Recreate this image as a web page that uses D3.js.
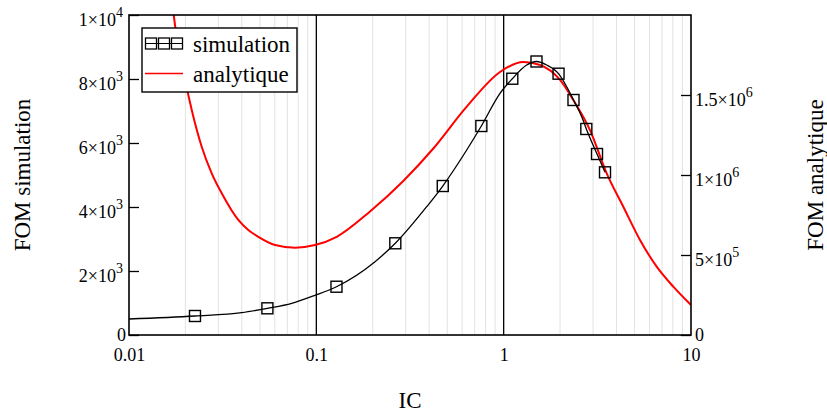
<!DOCTYPE html>
<html>
<head>
<meta charset="utf-8">
<script src="https://cdn.jsdelivr.net/npm/d3@7"></script>
<style>
  html, body { margin: 0; padding: 0; background: #fff; }
  svg { display: block; font-family: "Liberation Serif", "Times New Roman", serif; }
</style>
</head>
<body>
<svg id="chart" width="827" height="416"></svg>
<script>
// ---------- data ----------
// simulation markers (IC, FOM simulation)
const simIC  = [0.0225, 0.0548, 0.1281, 0.264, 0.473, 0.760, 1.112, 1.497, 1.963, 2.359, 2.762, 3.150, 3.475];
const simFOM = [594, 834, 1509, 2866, 4656, 6531, 8009, 8547, 8166, 7344, 6438, 5656, 5084];
// simulation curve as drawn (IC, FOM simulation)
const simLineIC  = [0.01, 0.0225, 0.040, 0.0548, 0.0739, 0.0984, 0.1281, 0.2057, 0.264, 0.3883, 0.473, 0.635, 0.760, 0.956, 1.112, 1.327, 1.497, 1.697, 1.963, 2.170, 2.359, 2.610, 2.762, 3.150, 3.475];
const simLineFOM = [500, 594, 697, 834, 991, 1241, 1509, 2291, 2866, 4009, 4656, 5781, 6531, 7553, 8009, 8438, 8547, 8438, 8166, 7759, 7344, 6822, 6438, 5656, 5084];
// analytical curve (IC, FOM analytique)
const anaIC  = [0.01720, 0.01760, 0.02073, 0.02162, 0.02444, 0.02764, 0.03126, 0.03833, 0.04333, 0.04899, 0.06018, 0.0769, 0.0984, 0.1285, 0.1934, 0.2912, 0.4212, 0.635, 0.956, 1.273, 1.563, 2.0, 2.353, 2.890, 3.548, 4.352, 5.343, 6.559, 8.046, 10];
const anaFOM = [2.03e6, 1.9375e6, 1.5e6, 1.406e6, 1.177e6, 1.0106e6, 8.856e5, 7.19e5, 6.56e5, 6.14e5, 5.625e5, 5.46e5, 5.625e5, 6.14e5, 7.72e5, 9.625e5, 1.1656e6, 1.427e6, 1.644e6, 1.706e6, 1.6875e6, 1.594e6, 1.469e6, 1.281e6, 1.0106e6, 8.02e5, 5.94e5, 4.27e5, 3.02e5, 1.875e5];
// ticks
const xTicks = [0.01, 0.1, 1, 10];
const xTickLabels = ["0.01", "0.1", "1", "10"];
const leftTicks = [0, 2000, 4000, 6000, 8000, 10000];
const rightTicks = [0, 500000, 1000000, 1500000];
const majorLines = [0.1, 1];
const seriesNames = ["simulation", "analytique"];
const axisTitles = { x: "IC", left: "FOM simulation", right: "FOM analytique" };

// ---------- layout ----------
const L = 129, R = 691, T = 15, B = 335;
const svg = d3.select("#chart");
const x = d3.scaleLog().domain([0.01, 10]).range([L, R]);
const yL = d3.scaleLinear().domain([0, 10000]).range([B, T]);
const yR = d3.scaleLinear().domain([0, 2000000]).range([B, T]);

svg.append("defs").append("clipPath").attr("id", "plotclip")
  .append("rect").attr("x", L).attr("y", T).attr("width", R - L).attr("height", B - T);

// minor grid
const minor = [];
for (let d = 0.01; d < 10; d *= 10) for (let k = 2; k <= 9; k++) minor.push(d * k);
svg.append("g").selectAll("line").data(minor).join("line")
  .attr("x1", d => x(d)).attr("x2", d => x(d)).attr("y1", T).attr("y2", B)
  .attr("stroke", "#e2e2e2").attr("stroke-width", 1);
svg.append("g").selectAll("line").data(majorLines).join("line")
  .attr("x1", d => x(d)).attr("x2", d => x(d)).attr("y1", T).attr("y2", B)
  .attr("stroke", "#000").attr("stroke-width", 1.3);

// ---------- tick label formatting ----------
function sci(v) {
  if (v === 0) return { m: "0", e: null };
  const e = Math.floor(Math.log10(v) + 1e-9);
  const m = +(v / Math.pow(10, e)).toFixed(2);
  return { m: m + "\u00d710", e: String(e) };
}
function fillLabel(sel) {
  sel.each(function(d) {
    const t = d3.select(this);
    const f = sci(d);
    t.text(null);
    t.append("tspan").text(f.m);
    if (f.e) t.append("tspan").attr("font-size", 14).attr("dy", -9).text(f.e);
  });
}

// left axis
const gL = svg.append("g").attr("transform", `translate(${L},0)`)
  .call(d3.axisLeft(yL).tickValues(leftTicks).tickSize(-10).tickPadding(6));
gL.select(".domain").remove();
gL.selectAll(".tick line").attr("stroke", "#000").attr("stroke-width", 1.3);
gL.selectAll(".tick text").attr("font-size", 18).attr("fill", "#000")
  .attr("font-family", "Liberation Serif, serif")
  .attr("dy", d => d === 0 ? 5.5 : 10.5)
  .attr("dx", d => d === 0 ? 3 : 0)
  .call(fillLabel);

// right axis
const gR = svg.append("g").attr("transform", `translate(${R},0)`)
  .call(d3.axisRight(yR).tickValues(rightTicks).tickSize(-10).tickPadding(4));
gR.select(".domain").remove();
gR.selectAll(".tick line").attr("stroke", "#000").attr("stroke-width", 1.3);
gR.selectAll(".tick text").attr("font-size", 18).attr("fill", "#000")
  .attr("font-family", "Liberation Serif, serif")
  .attr("dy", d => d === 0 ? 5.5 : 10.5)
  .call(fillLabel);

// bottom axis
const gB = svg.append("g").attr("transform", `translate(0,${B})`)
  .call(d3.axisBottom(x).tickValues(xTicks).tickSize(0)
    .tickFormat((d, i) => xTickLabels[i]));
gB.select(".domain").remove();
gB.selectAll(".tick text").attr("font-size", 18).attr("fill", "#000")
  .attr("font-family", "Liberation Serif, serif").attr("y", 26).attr("dy", 0);

// ---------- series ----------
const plot = svg.append("g").attr("clip-path", "url(#plotclip)");
const anaLine = d3.line().x((d, i) => x(anaIC[i])).y(d => yR(d)).curve(d3.curveMonotoneX);
plot.append("path").attr("d", anaLine(anaFOM))
  .attr("fill", "none").attr("stroke", "#ff0000").attr("stroke-width", 2);

const simLine = d3.line().x((d, i) => x(simLineIC[i])).y(d => yL(d)).curve(d3.curveMonotoneX);
plot.append("path").attr("d", simLine(simLineFOM))
  .attr("fill", "none").attr("stroke", "#000").attr("stroke-width", 1.3);

const sq = 11;
plot.append("g").selectAll("rect").data(simFOM).join("rect")
  .attr("x", (d, i) => x(simIC[i]) - sq / 2).attr("y", d => yL(d) - sq / 2)
  .attr("width", sq).attr("height", sq)
  .attr("fill", "none").attr("stroke", "#000").attr("stroke-width", 1.4);

// frame
svg.append("rect").attr("x", L).attr("y", T).attr("width", R - L).attr("height", B - T)
  .attr("fill", "none").attr("stroke", "#000").attr("stroke-width", 1.6);

// ---------- legend ----------
const lg = svg.append("g");
lg.append("rect").attr("x", 142).attr("y", 28).attr("width", 155).attr("height", 64)
  .attr("fill", "#fff").attr("stroke", "#000").attr("stroke-width", 1.4);
const symX = d3.range(3).map(k => 151 + k * 13);
lg.append("line").attr("x1", 145).attr("x2", 183).attr("y1", 43.5).attr("y2", 43.5)
  .attr("stroke", "#000").attr("stroke-width", 1.2);
lg.selectAll("rect.sym").data(symX).join("rect").attr("class", "sym")
  .attr("x", d => d - 5.5).attr("y", 38).attr("width", 11).attr("height", 11)
  .attr("fill", "none").attr("stroke", "#000").attr("stroke-width", 1.3);
lg.append("line").attr("x1", 145).attr("x2", 183).attr("y1", 73.5).attr("y2", 73.5)
  .attr("stroke", "#ff0000").attr("stroke-width", 1.5);
lg.selectAll("text").data(seriesNames).join("text")
  .attr("x", 193).attr("y", (d, i) => 52 + i * 30)
  .attr("font-size", 23).attr("fill", "#000").text(d => d);

// ---------- titles ----------
svg.append("text").attr("x", (L + R) / 2).attr("y", 408).attr("text-anchor", "middle")
  .attr("font-size", 23).text(axisTitles.x);
svg.append("text").attr("transform", "translate(30,175) rotate(-90)").attr("text-anchor", "middle")
  .attr("font-size", 23).text(axisTitles.left);
svg.append("text").attr("transform", "translate(823,175) rotate(-90)").attr("text-anchor", "middle")
  .attr("font-size", 23).text(axisTitles.right);
</script>
</body>
</html>
